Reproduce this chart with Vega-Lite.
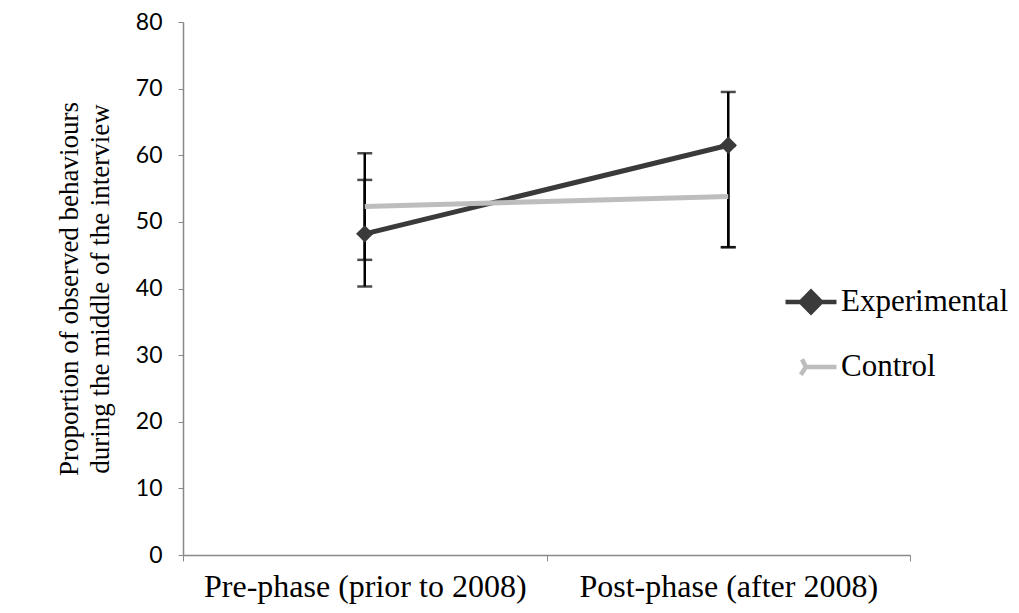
{
  "$schema": "https://vega.github.io/schema/vega-lite/v6.json",
  "width": 727,
  "height": 533,
  "autosize": {"type": "none"},
  "padding": {"left": 183, "top": 22, "right": 109, "bottom": 58},
  "background": "white",
  "config": {"view": {"stroke": null}},
  "data": {
    "values": [
      {"phase": "Pre-phase (prior to 2008)", "group": "Experimental", "value": 48.2, "lo": 40.3, "hi": 60.3},
      {"phase": "Post-phase (after 2008)", "group": "Experimental", "value": 61.5, "lo": 46.2, "hi": 69.5},
      {"phase": "Pre-phase (prior to 2008)", "group": "Control", "value": 52.3, "lo": 44.3, "hi": 56.3},
      {"phase": "Post-phase (after 2008)", "group": "Control", "value": 53.8, "lo": 46.2, "hi": 61.4}
    ]
  },
  "encoding": {
    "x": {
      "field": "phase", "type": "nominal",
      "sort": ["Pre-phase (prior to 2008)", "Post-phase (after 2008)"],
      "scale": {"paddingInner": 0, "paddingOuter": 0},
      "axis": {
        "title": null, "labelAngle": 0, "labelFont": "Liberation Serif", "labelFontSize": 32,
        "labelColor": "black", "labelPadding": 10, "labelLimit": 0, "tickBand": "extent", "tickSize": 6,
        "domainColor": "#888888", "tickColor": "#888888", "domainWidth": 1.5, "grid": false
      }
    }
  },
  "layer": [
    {
      "mark": {"type": "rule", "color": "black", "strokeWidth": 2.5},
      "encoding": {
        "y": {"field": "lo", "type": "quantitative"},
        "y2": {"field": "hi"}
      }
    },
    {
      "mark": {"type": "tick", "color": "black", "thickness": 2.5, "size": 15},
      "encoding": {"y": {"field": "lo", "type": "quantitative"}}
    },
    {
      "mark": {"type": "tick", "color": "black", "thickness": 2.5, "size": 15},
      "encoding": {"y": {"field": "hi", "type": "quantitative"}}
    },
    {
      "mark": {"type": "line", "strokeWidth": 5},
      "encoding": {
        "y": {
          "field": "value", "type": "quantitative",
          "scale": {"domain": [0, 80], "nice": false},
          "axis": {
            "values": [0, 10, 20, 30, 40, 50, 60, 70, 80],
            "title": ["Proportion of observed behaviours", "during the middle of the interview"],
            "titleFont": "Liberation Serif", "titleFontSize": 27, "titleFontWeight": "normal",
            "titleColor": "black", "titlePadding": 21, "titleLineHeight": 31,
            "labelFont": "Lato", "labelFontSize": 23, "labelColor": "black", "labelPadding": 16,
            "tickSize": 5, "domainColor": "#888888", "tickColor": "#888888", "domainWidth": 1.5, "grid": false
          }
        },
        "color": {
          "field": "group", "type": "nominal",
          "sort": ["Experimental", "Control"],
          "scale": {"domain": ["Experimental", "Control"], "range": ["#3a3a3a", "#bdbdbd"]},
          "legend": {
            "title": null, "orient": "none", "legendX": 600, "legendY": 252,
            "labelFont": "Liberation Serif", "labelFontSize": 31, "labelColor": "black", "labelLimit": 0,
            "symbolSize": 2600, "symbolStrokeWidth": 4.5, "rowPadding": 17, "labelOffset": 2,
            "encode": {
              "symbols": {
                "update": {
                  "shape": {"signal": "datum.value === 'Experimental' ? 'M-1,0L-0.4,0L0,-0.4L0.4,0L1,0M0.4,0L0,0.4L-0.4,0Z' : 'M-0.2,0L1,0M-0.2,0L-0.35,-0.3M-0.2,0L-0.4,0.3'"},
                  "fill": {"signal": "datum.value === 'Experimental' ? '#3a3a3a' : 'transparent'"}
                }
              }
            }
          }
        },
        "order": {"field": "group", "sort": "ascending"}
      }
    },
    {
      "transform": [{"filter": "datum.group === 'Experimental'"}],
      "mark": {"type": "point", "shape": "diamond", "filled": true, "size": 300, "color": "#3a3a3a", "opacity": 1},
      "encoding": {"y": {"field": "value", "type": "quantitative"}}
    }
  ]
}
